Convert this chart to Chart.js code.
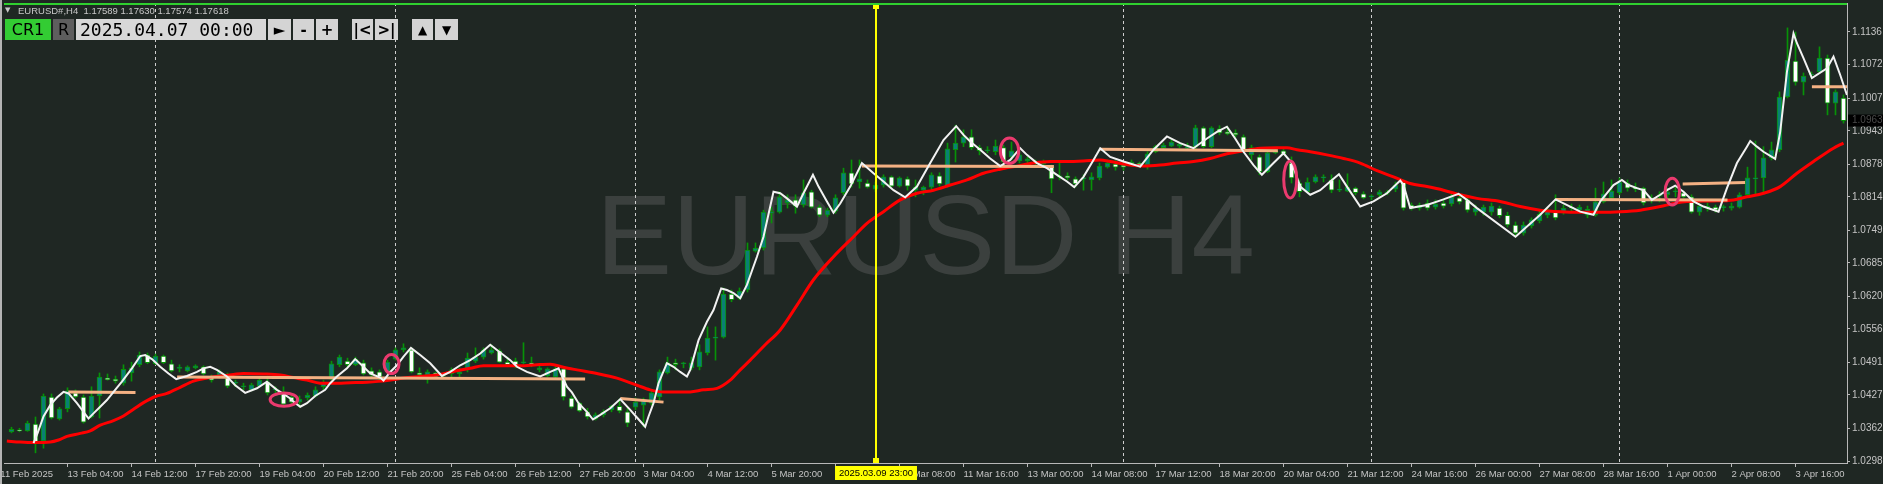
<!DOCTYPE html>
<html><head><meta charset="utf-8">
<script src="https://cdn.jsdelivr.net/npm/chart.js@4.4.1/dist/chart.umd.min.js"></script>
<style>
html,body{margin:0;padding:0;background:#1f2723;}
#wrap{position:relative;width:1883px;height:484px;overflow:hidden;}
canvas{position:absolute;left:0;top:0;}
.hdr{position:absolute;left:18px;top:5px;font:9.5px "Liberation Sans",Arial,sans-serif;color:#c8c8c8;white-space:pre;line-height:12px;}
.tri{position:absolute;left:5px;top:6px;font:7px "DejaVu Sans";color:#c8c8c8;}
.b{position:absolute;top:19px;height:21px;box-sizing:border-box;display:flex;align-items:center;justify-content:center;color:#000;background:#d4d4d4;font:bold 15px "DejaVu Sans",sans-serif;}
</style></head>
<body>
<div id="wrap">
<canvas id="c" width="1883" height="484"></canvas>
<div class="tri">▼</div>
<div class="hdr">EURUSD#,H4  1.17589 1.17630 1.17574 1.17618</div>
<div class="b" style="left:5px;width:46px;background:#33cc33;font:16px 'DejaVu Sans';">CR1</div>
<div class="b" style="left:53px;width:21px;background:#5e5e5e;font:16px 'DejaVu Sans';">R</div>
<div class="b" style="left:76px;width:190px;background:#d8d8d8;font:18px 'DejaVu Sans Mono';justify-content:flex-start;padding-left:4px;">2025.04.07 00:00</div>
<div class="b" style="left:268px;width:23px;">►</div>
<div class="b" style="left:293px;width:21px;">-</div>
<div class="b" style="left:316px;width:22px;">+</div>
<div class="b" style="left:352px;width:21px;">|&lt;</div>
<div class="b" style="left:375px;width:23px;">&gt;|</div>
<div class="b" style="left:412px;width:21px;font-size:12px;">▲</div>
<div class="b" style="left:435px;width:23px;font-size:12px;">▼</div>
</div>
<script>
// ---- candles (H4 bars, index 0 = first fully visible bar) ----
const opens=[
1.0355,1.0359,1.0357,1.0370,1.0337,1.0423,1.0380,1.0400,1.0431,1.0423,
1.0384,1.0425,1.0460,1.0458,1.0450,1.0470,1.0486,1.0505,1.0488,1.0503,
1.0488,1.0479,1.0474,1.0480,1.0482,1.0462,1.0462,1.0462,1.0450,1.0443,
1.0437,1.0444,1.0452,1.0437,1.0429,1.0423,1.0413,1.0421,1.0425,1.0443,
1.0458,1.0486,1.0493,1.0486,1.0490,1.0474,1.0472,1.0472,1.0497,1.0515,
1.0515,1.0470,1.0466,1.0470,1.0465,1.0468,1.0468,1.0478,1.0493,1.0501,
1.0509,1.0513,1.0491,1.0493,1.0490,1.0490,1.0476,1.0464,1.0462,1.0478,
1.0421,1.0411,1.0394,1.0380,1.0388,1.0398,1.0405,1.0394,1.0403,1.0407,
1.0411,1.0423,1.0470,1.0490,1.0488,1.0480,1.0482,1.0509,1.0538,1.0540,
1.0624,1.0616,1.0632,1.0708,1.0714,1.0782,1.0784,1.0802,1.0808,1.0798,
1.0824,1.0794,1.0778,1.0786,1.0822,1.0861,1.0843,1.0841,1.0829,1.0837,
1.0853,1.0835,1.0849,1.0827,1.0827,1.0833,1.0855,1.0835,1.0906,1.0919,
1.0931,1.0910,1.0904,1.0902,1.0910,1.0892,1.0884,1.0884,1.0882,1.0878,
1.0874,1.0853,1.0855,1.0849,1.0849,1.0847,1.0851,1.0872,1.0878,1.0876,
1.0878,1.0880,1.0876,1.0902,1.0910,1.0913,1.0913,1.0910,1.0912,1.0949,
1.0912,1.0947,1.0941,1.0939,1.0931,1.0896,1.0892,1.0863,1.0900,1.0904,
1.0880,1.0841,1.0824,1.0843,1.0851,1.0847,1.0827,1.0825,1.0831,1.0820,
1.0814,1.0818,1.0822,1.0829,1.0843,1.0798,1.0792,1.0802,1.0794,1.0802,
1.0800,1.0812,1.0808,1.0784,1.0784,1.0784,1.0792,1.0778,1.0759,1.0743,
1.0757,1.0767,1.0778,1.0784,1.0784,1.0794,1.0788,1.0778,1.0778,1.0804,
1.0812,1.0822,1.0841,1.0833,1.0831,1.0808,1.0816,1.0818,1.0824,1.0822,
1.0814,1.0784,1.0792,1.0794,1.0793,1.0792,1.0794,1.0818,1.0849,1.0851,
1.0890,1.0906,1.1009,1.1079,1.1038,1.1052,1.1058,1.1085,1.0997,1.1007];
const highs=[
1.0364,1.0362,1.0376,1.0384,1.0429,1.0429,1.0403,1.0441,1.0437,1.0427,
1.0443,1.0470,1.0468,1.0464,1.0486,1.0491,1.0511,1.0509,1.0507,1.0505,
1.0495,1.0486,1.0484,1.0486,1.0484,1.0466,1.0476,1.0470,1.0456,1.0450,
1.0450,1.0460,1.0464,1.0443,1.0443,1.0427,1.0425,1.0431,1.0443,1.0456,
1.0493,1.0505,1.0499,1.0501,1.0495,1.0480,1.0476,1.0495,1.0519,1.0527,
1.0519,1.0480,1.0476,1.0472,1.0470,1.0480,1.0480,1.0509,1.0519,1.0519,
1.0525,1.0517,1.0501,1.0499,1.0529,1.0501,1.0486,1.0480,1.0482,1.0482,
1.0425,1.0413,1.0401,1.0392,1.0398,1.0407,1.0419,1.0401,1.0421,1.0421,
1.0437,1.0476,1.0501,1.0497,1.0491,1.0501,1.0525,1.0560,1.0560,1.0636,
1.0632,1.0636,1.0724,1.0724,1.0788,1.0794,1.0824,1.0818,1.0818,1.0847,
1.0827,1.0798,1.0792,1.0818,1.0870,1.0886,1.0886,1.0847,1.0843,1.0857,
1.0855,1.0853,1.0853,1.0847,1.0835,1.0861,1.0861,1.0919,1.0954,1.0945,
1.0945,1.0915,1.0912,1.0925,1.0915,1.0921,1.0902,1.0892,1.0886,1.0886,
1.0876,1.0880,1.0861,1.0853,1.0857,1.0861,1.0880,1.0886,1.0886,1.0882,
1.0886,1.0882,1.0902,1.0915,1.0919,1.0927,1.0919,1.0919,1.0954,1.0951,
1.0951,1.0953,1.0951,1.0945,1.0935,1.0915,1.0896,1.0902,1.0910,1.0910,
1.0892,1.0847,1.0851,1.0857,1.0857,1.0857,1.0847,1.0859,1.0833,1.0824,
1.0818,1.0827,1.0827,1.0843,1.0847,1.0802,1.0802,1.0808,1.0808,1.0810,
1.0820,1.0820,1.0814,1.0798,1.0798,1.0802,1.0796,1.0784,1.0765,1.0765,
1.0773,1.0786,1.0794,1.0818,1.0798,1.0800,1.0798,1.0796,1.0831,1.0843,
1.0847,1.0851,1.0847,1.0841,1.0833,1.0818,1.0824,1.0831,1.0833,1.0825,
1.0818,1.0802,1.0802,1.0798,1.0798,1.0802,1.0822,1.0872,1.0923,1.0912,
1.0921,1.1019,1.1144,1.1136,1.1056,1.1058,1.1107,1.1091,1.1023,1.1013];
const lows=[
1.0353,1.0355,1.0356,1.0314,1.0323,1.0380,1.0378,1.0394,1.0421,1.0372,
1.0382,1.0382,1.0456,1.0450,1.0446,1.0454,1.0482,1.0488,1.0486,1.0488,
1.0472,1.0472,1.0472,1.0478,1.0466,1.0452,1.0460,1.0441,1.0443,1.0437,
1.0435,1.0443,1.0427,1.0431,1.0407,1.0409,1.0403,1.0417,1.0423,1.0437,
1.0456,1.0482,1.0482,1.0484,1.0466,1.0462,1.0454,1.0468,1.0495,1.0511,
1.0470,1.0462,1.0450,1.0460,1.0460,1.0462,1.0460,1.0472,1.0490,1.0497,
1.0507,1.0490,1.0482,1.0480,1.0488,1.0482,1.0472,1.0462,1.0460,1.0417,
1.0401,1.0394,1.0380,1.0378,1.0384,1.0394,1.0392,1.0365,1.0398,1.0365,
1.0407,1.0417,1.0468,1.0476,1.0480,1.0476,1.0476,1.0505,1.0495,1.0538,
1.0609,1.0613,1.0628,1.0706,1.0710,1.0763,1.0782,1.0792,1.0782,1.0794,
1.0792,1.0775,1.0775,1.0782,1.0818,1.0833,1.0831,1.0831,1.0824,1.0833,
1.0833,1.0833,1.0827,1.0814,1.0818,1.0829,1.0835,1.0833,1.0882,1.0912,
1.0906,1.0896,1.0900,1.0896,1.0880,1.0886,1.0880,1.0880,1.0876,1.0874,
1.0822,1.0847,1.0847,1.0833,1.0827,1.0827,1.0847,1.0870,1.0866,1.0866,
1.0874,1.0872,1.0868,1.0900,1.0906,1.0912,1.0910,1.0906,1.0906,1.0910,
1.0910,1.0935,1.0935,1.0931,1.0902,1.0886,1.0857,1.0861,1.0898,1.0896,
1.0841,1.0814,1.0822,1.0841,1.0843,1.0822,1.0824,1.0824,1.0818,1.0810,
1.0808,1.0814,1.0818,1.0824,1.0788,1.0788,1.0788,1.0788,1.0790,1.0792,
1.0796,1.0800,1.0784,1.0778,1.0778,1.0778,1.0773,1.0755,1.0736,1.0739,
1.0753,1.0763,1.0773,1.0769,1.0780,1.0784,1.0784,1.0773,1.0776,1.0802,
1.0808,1.0818,1.0825,1.0824,1.0798,1.0802,1.0804,1.0812,1.0814,1.0812,
1.0782,1.0778,1.0786,1.0784,1.0786,1.0788,1.0792,1.0814,1.0818,1.0822,
1.0886,1.0902,1.1007,1.1032,1.1013,1.1046,1.1056,1.0974,1.0974,1.0958];
const closes=[
1.0360,1.0357,1.0372,1.0333,1.0425,1.0382,1.0400,1.0435,1.0423,1.0374,
1.0425,1.0462,1.0457,1.0454,1.0477,1.0480,1.0505,1.0490,1.0503,1.0490,
1.0474,1.0481,1.0482,1.0484,1.0468,1.0456,1.0472,1.0444,1.0452,1.0445,
1.0447,1.0456,1.0431,1.0439,1.0409,1.0413,1.0419,1.0427,1.0437,1.0450,
1.0488,1.0501,1.0486,1.0497,1.0468,1.0466,1.0462,1.0491,1.0515,1.0519,
1.0472,1.0466,1.0472,1.0462,1.0467,1.0476,1.0472,1.0499,1.0501,1.0515,
1.0515,1.0491,1.0486,1.0482,1.0491,1.0486,1.0480,1.0478,1.0478,1.0423,
1.0403,1.0396,1.0384,1.0388,1.0394,1.0405,1.0396,1.0372,1.0413,1.0417,
1.0431,1.0472,1.0490,1.0486,1.0489,1.0490,1.0511,1.0538,1.0540,1.0624,
1.0613,1.0630,1.0710,1.0714,1.0784,1.0785,1.0814,1.0808,1.0796,1.0822,
1.0794,1.0778,1.0788,1.0812,1.0861,1.0839,1.0849,1.0833,1.0837,1.0853,
1.0835,1.0851,1.0835,1.0833,1.0833,1.0857,1.0839,1.0908,1.0919,1.0931,
1.0910,1.0904,1.0905,1.0913,1.0882,1.0904,1.0896,1.0888,1.0883,1.0882,
1.0849,1.0855,1.0851,1.0839,1.0850,1.0853,1.0874,1.0880,1.0872,1.0872,
1.0882,1.0874,1.0898,1.0912,1.0915,1.0921,1.0917,1.0912,1.0949,1.0912,
1.0949,1.0939,1.0937,1.0935,1.0904,1.0910,1.0863,1.0900,1.0904,1.0898,
1.0851,1.0824,1.0843,1.0853,1.0852,1.0827,1.0828,1.0833,1.0822,1.0812,
1.0815,1.0824,1.0824,1.0837,1.0792,1.0792,1.0798,1.0792,1.0800,1.0796,
1.0814,1.0804,1.0788,1.0792,1.0794,1.0796,1.0777,1.0759,1.0743,1.0759,
1.0769,1.0780,1.0788,1.0773,1.0792,1.0792,1.0794,1.0790,1.0804,1.0820,
1.0825,1.0843,1.0831,1.0829,1.0802,1.0812,1.0817,1.0824,1.0825,1.0814,
1.0784,1.0796,1.0796,1.0788,1.0794,1.0796,1.0818,1.0851,1.0850,1.0890,
1.0906,1.1009,1.1081,1.1038,1.1050,1.1054,1.1085,1.0997,1.1019,1.0963];

// ---- moving average (red) : bar index / price ----
const maIdx=[-0.58,1.09,2.75,4.84,5.88,6.93,8.59,9.84,11.09,12.75,14.0,15.25,16.5,18.0,19.43,21.09,22.75,24.43,26.09,27.75,29.0,31.5,33.59,35.25,36.93,38.59,40.25,42.34,44.43,46.93,49.0,51.09,53.18,55.25,57.34,59.0,61.5,63.59,65.68,67.34,69.0,70.68,73.18,75.68,78.18,79.84,81.5,84.84,86.5,88.18,89.84,91.09,92.34,94.21,96.09,98.21,100.25,102.75,105.25,106.93,109.0,111.09,113.18,115.25,117.34,119.43,121.5,123.59,125.68,127.75,129.84,131.93,134.0,136.09,137.34,139.84,141.5,143.59,145.68,147.75,149.84,151.93,154.0,156.09,158.18,159.43,160.68,162.34,164.43,166.5,168.59,170.68,172.75,174.84,176.93,179.0,181.09,183.18,186.09,188.59,191.09,193.59,196.09,198.59,201.09,203.59,206.09,207.75,209.43,212.75,215.25,216.93,219.0,221.09,223.18,225.25,227.75,229.0];
const maVal=[1.0337,1.0335,1.0334,1.0335,1.0339,1.0346,1.0352,1.0357,1.0368,1.0377,1.0386,1.0399,1.0412,1.0424,1.0430,1.0442,1.0454,1.0460,1.0464,1.0467,1.0469,1.0468,1.0466,1.0461,1.0456,1.0450,1.0450,1.0451,1.0452,1.0455,1.0460,1.0463,1.0466,1.0473,1.0479,1.0484,1.0484,1.0484,1.0486,1.0487,1.0481,1.0476,1.0469,1.0460,1.0446,1.0437,1.0433,1.0433,1.0437,1.0440,1.0456,1.0476,1.0495,1.0525,1.0554,1.0603,1.0652,1.0697,1.0736,1.0762,1.0785,1.0808,1.0821,1.0827,1.0837,1.0847,1.0860,1.0868,1.0874,1.0880,1.0883,1.0883,1.0884,1.0886,1.0883,1.0876,1.0874,1.0876,1.0880,1.0883,1.0889,1.0898,1.0904,1.0909,1.0910,1.0910,1.0906,1.0902,1.0896,1.0889,1.0880,1.0865,1.0853,1.0840,1.0834,1.0827,1.0818,1.0811,1.0805,1.0795,1.0788,1.0785,1.0784,1.0784,1.0785,1.0788,1.0795,1.0801,1.0805,1.0806,1.0808,1.0814,1.0821,1.0834,1.0860,1.0883,1.0909,1.0919];

// ---- swing line (white) : bar index / price ----
const zzIdx=[2.75,3.25,4.0,4.84,5.68,6.5,7.13,8.18,9.63,10.25,11.09,11.93,12.96,13.8,15.05,16.09,16.71,17.55,18.59,19.63,20.59,21.93,23.18,24.0,24.84,25.68,26.93,27.96,29.21,30.68,31.93,33.18,34.0,34.84,35.25,36.09,36.93,37.96,39.21,39.84,40.68,41.93,42.96,44.0,44.84,46.09,
46.5,47.34,48.18,49.0,49.93,51.09,52.34,53.8,54.84,56.09,57.34,58.59,59.84,61.09,62.34,63.18,64.43,66.09,67.34,68.38,68.93,69.43,70.05,70.88,71.93,72.68,73.59,74.84,76.09,77.34,78.18,79.21,79.63,80.25,80.88,81.93,82.75,83.59,84.43,84.84,85.88,86.93,87.75,88.71,89.43,90.25,91.09,91.93,
93.18,94.0,95.25,96.09,96.93,98.18,99.0,100.18,100.88,101.93,102.75,103.59,104.84,106.3,107.75,109.0,110.25,111.71,113.18,114.84,116.5,118.09,119.0,119.84,121.09,122.34,123.59,124.84,126.09,126.93,128.18,129.43,130.68,131.93,132.84,134.0,135.25,136.09,
137.34,139.0,141.09,142.75,144.43,146.09,147.75,149.43,150.68,151.93,152.96,154.0,155.25,156.3,157.75,159.0,160.05,161.09,162.34,163.59,164.84,165.93,166.93,168.59,170.25,171.93,173.59,174.0,174.84,176.93,179.0,180.88,181.93,183.18,
188.0,
191.09,193.0,194.84,196.09,197.75,198.59,200.25,201.3,202.13,203.18,204.0,205.05,206.09,206.93,207.96,209.0,210.25,211.5,213.38,214.43,215.68,216.93,217.34,218.18,219.0,220.46,221.09,221.93,222.75,223.18,224.0,225.05,226.93,227.75,228.59,229.43];
const zzVal=[1.0333,1.0352,1.0385,1.0407,1.0422,1.0433,1.0430,1.0411,1.0381,1.0391,1.0404,1.0417,1.0437,1.0453,1.0479,1.0503,1.0505,1.0497,1.0482,1.0469,1.0458,1.0464,1.0472,1.0479,1.0482,1.0476,1.0463,1.0446,1.0431,1.0440,1.0453,1.0437,1.0429,1.0420,1.0414,1.0404,1.0411,1.0425,1.0437,1.0450,1.0463,1.0479,1.0497,1.0482,1.0469,1.0461,
1.0455,1.0472,1.0485,1.0502,1.0519,1.0505,1.0489,1.0464,1.0472,1.0485,1.0495,1.0508,1.0525,1.0510,1.0495,1.0482,1.0472,1.0463,1.0472,1.0479,1.0460,1.0443,1.0432,1.0411,1.0394,1.0379,1.0388,1.0401,1.0419,1.0398,1.0383,1.0365,1.0385,1.0411,1.0450,1.0489,1.0482,1.0472,1.0463,1.0476,1.0534,1.0570,1.0593,1.0635,1.0632,1.0626,1.0616,1.0642,
1.0697,1.0736,1.0824,1.0821,1.0811,1.0795,1.0821,1.0857,1.0834,1.0805,1.0783,1.0801,1.0834,1.0880,1.0860,1.0844,1.0827,1.0813,1.0834,1.0880,1.0925,1.0952,1.0935,1.0922,1.0906,1.0889,1.0874,1.0886,1.0909,1.0896,1.0880,1.0870,1.0857,1.0844,1.0833,1.0853,1.0886,1.0909,
1.0892,1.0883,1.0873,1.0906,1.0932,1.0919,1.0909,1.0928,1.0941,1.0951,1.0928,1.0902,1.0876,1.0857,1.0880,1.0899,1.0880,1.0834,1.0818,1.0827,1.0844,1.0858,1.0834,1.0795,1.0805,1.0821,1.0846,1.0837,1.0792,1.0798,1.0809,1.0820,1.0808,1.0792,
1.0736,
1.0779,1.0809,1.0795,1.0785,1.0779,1.0805,1.0837,1.0847,1.0837,1.0831,1.0827,1.0808,1.0818,1.0827,1.0836,1.0824,1.0805,1.0795,1.0785,1.0831,1.0880,1.0912,1.0923,1.0912,1.0902,1.0888,1.0941,1.1058,1.1133,1.1114,1.1085,1.1046,1.1065,1.1088,1.1052,1.1013];

// ---- horizontal level segments (tan) ----
const lvlT1=[7.1,20.7,76.1,106.3,136.1,193.0,208.9,225.05];
const lvlT2=[15.5,71.7,81.5,130.3,158.3,214.5,216.7,229.6];
const lvlP1=[1.0433,1.0462,1.0420,1.0874,1.0907,1.0809,1.0839,1.1029];
const lvlP2=[1.0432,1.0458,1.0413,1.0873,1.0904,1.0808,1.0842,1.1029];

// ---- ellipse objects (time/price bounds) ----
const ovalT1=[32.14,46.38,123.41,158.84,206.51];
const ovalT2=[35.96,48.63,126.09,160.84,208.69];
const ovalP1=[1.0402,1.0466,1.0876,1.0809,1.0795];
const ovalP2=[1.0434,1.0509,1.0932,1.0887,1.0853];

// ---- axes / misc ----
const sepIdx=[18,48,78,108,139,170,201];
const timeTickIdx=[-1.4,7,15,23,31,39,47,55,63,71,79,87,95,103,111,119,127,135,143,151,159,167,175,183,191,199,207,215,223];
const timeTickText=['11 Feb 2025','13 Feb 04:00','14 Feb 12:00','17 Feb 20:00','19 Feb 04:00','20 Feb 12:00','21 Feb 20:00','25 Feb 04:00','26 Feb 12:00','27 Feb 20:00','3 Mar 04:00','4 Mar 12:00','5 Mar 20:00','7 Mar 04:00','10 Mar 08:00','11 Mar 16:00','13 Mar 00:00','14 Mar 08:00','17 Mar 12:00','18 Mar 20:00','20 Mar 04:00','21 Mar 12:00','24 Mar 16:00','26 Mar 00:00','27 Mar 08:00','28 Mar 16:00','1 Apr 00:00','2 Apr 08:00','3 Apr 16:00'];
const priceTicks=[1.0298,1.0362,1.0427,1.0491,1.0556,1.0620,1.0685,1.0749,1.0814,1.0878,1.0943,1.1007,1.1072,1.1136];
const vlineIdx=108;
const vlineText='2025.03.09 23:00';
const lastPrice=1.0963;
const symbolText='EURUSD H4';

// ---- styles ----
const BG='#1f2723', BULL='#0a7f74', BEAR='#ffffff', WICK='#079207', TXT='#c4c4c4', AXIS='#b8b8b8';
const X_MIN=-0.9375, X_MAX=229.4375, Y_MIN=1.02941, Y_MAX=1.11926;

const bodies=opens.map((o,i)=>({x:i,y:[o,closes[i]]}));
const wicks=highs.map((h,i)=>({x:i,y:[lows[i],h]}));
const bodyColors=opens.map((o,i)=>closes[i]>=o?BULL:BEAR);

const lvlSets=lvlT1.map((t,i)=>({type:'line',data:[{x:t,y:lvlP1[i]},{x:lvlT2[i],y:lvlP2[i]}],borderColor:'#f4b183',borderWidth:3,pointRadius:0,order:1}));

const bgPlugin={id:'bgp',beforeDraw(c){const ctx=c.ctx;ctx.save();ctx.fillStyle=BG;ctx.fillRect(0,0,c.width,c.height);ctx.restore();}};
const backPlugin={id:'back',beforeDatasetsDraw(c){
  const {ctx,chartArea:a,scales:{x}}=c;ctx.save();
  const fs=114;ctx.font=fs+'px "Liberation Sans"';ctx.fillStyle='#3b403e';ctx.textAlign='center';ctx.textBaseline='alphabetic';
  ctx.fillText(symbolText,(a.left+a.right)/2,(a.top+a.bottom)/2+0.716*fs/2);
  ctx.strokeStyle='#cfcfcf';ctx.lineWidth=1;ctx.setLineDash([3,3]);
  sepIdx.forEach(s=>{const px=Math.round(x.getPixelForValue(s))-0.5;ctx.beginPath();ctx.moveTo(px,a.top);ctx.lineTo(px,a.bottom);ctx.stroke();});
  ctx.restore();}};
const frontPlugin={id:'front',afterDatasetsDraw(c){
  const {ctx,chartArea:a,scales:{x,y}}=c;ctx.save();
  ctx.beginPath();ctx.rect(a.left,a.top,a.right-a.left,a.bottom-a.top);ctx.clip();
  ctx.strokeStyle='#ea3a6e';ctx.lineWidth=3;
  ovalT1.forEach((t,i)=>{const x1=x.getPixelForValue(t),x2=x.getPixelForValue(ovalT2[i]),y1=y.getPixelForValue(ovalP1[i]),y2=y.getPixelForValue(ovalP2[i]);
    ctx.beginPath();ctx.ellipse((x1+x2)/2,(y1+y2)/2,Math.abs(x2-x1)/2-1.5,Math.abs(y2-y1)/2-1.5,0,0,Math.PI*2);ctx.stroke();});
  const vx=Math.round(x.getPixelForValue(vlineIdx));
  ctx.fillStyle='#ffff00';ctx.fillRect(vx-1,a.top,2,a.bottom-a.top);
  ctx.fillRect(vx-3,a.top+1,6,5);ctx.fillRect(vx-3,a.bottom-5,6,5);
  ctx.fillStyle='#2fcf2f';ctx.fillRect(a.left,a.top,a.right-a.left,2);
  ctx.restore();},
 afterDraw(c){
  const {ctx,chartArea:a,scales:{x,y}}=c;ctx.save();
  const vx=Math.round(x.getPixelForValue(vlineIdx));
  ctx.font='9.5px "Liberation Sans"';const w=ctx.measureText(vlineText).width+8;
  ctx.fillStyle='#ffff00';ctx.fillRect(vx-w/2,a.bottom+3,w,14);
  ctx.fillStyle='#000';ctx.textAlign='center';ctx.textBaseline='middle';ctx.fillText(vlineText,vx,a.bottom+10.5);
  const py=y.getPixelForValue(lastPrice);
  ctx.font='10px "Liberation Sans"';
  ctx.fillStyle='#000';ctx.fillRect(a.right+1,py-6,c.width-a.right-1,12);
  ctx.fillStyle='#4a4a4a';ctx.textAlign='left';ctx.fillText(lastPrice.toFixed(4),a.right+5,py);
  ctx.fillStyle='#b4b4b4';ctx.fillRect(0,0,2,c.height);
  ctx.restore();}};

new Chart(document.getElementById('c'),{
  type:'bar',
  data:{datasets:[
    {type:'line',data:zzIdx.map((v,i)=>({x:v,y:zzVal[i]})),borderColor:'#f2f2f2',borderWidth:2,pointRadius:0,order:0},
    ...lvlSets,
    {type:'line',data:maIdx.map((v,i)=>({x:v,y:maVal[i]})),borderColor:'#ff0000',borderWidth:3,pointRadius:0,cubicInterpolationMode:'monotone',order:2},
    {type:'bar',data:bodies,backgroundColor:bodyColors,borderColor:WICK,borderWidth:1,borderSkipped:false,barThickness:5,minBarLength:1,grouped:false,order:4},
    {type:'bar',data:wicks,backgroundColor:WICK,borderWidth:0,barThickness:1,grouped:false,order:5}
  ]},
  options:{
    responsive:false,animation:false,devicePixelRatio:1,
    layout:{padding:{left:4,top:3,right:0,bottom:0}},
    plugins:{legend:{display:false},tooltip:{enabled:false}},
    scales:{
      x:{type:'linear',min:X_MIN,max:X_MAX,offset:false,
        afterBuildTicks:s=>{s.ticks=timeTickIdx.map(v=>({value:v}));},
        afterFit:s=>{s.height=21;s.paddingLeft=0;s.paddingRight=0;},
        ticks:{autoSkip:false,maxRotation:0,minRotation:0,align:'start',padding:2,color:TXT,font:{family:'Liberation Sans',size:9.5},callback:(v,i)=>timeTickText[i]},
        grid:{drawOnChartArea:false,drawTicks:true,tickLength:4,color:AXIS,offset:false},
        border:{display:true,color:AXIS}},
      y:{type:'linear',position:'right',min:Y_MIN,max:Y_MAX,
        afterBuildTicks:s=>{s.ticks=priceTicks.map(v=>({value:v}));},
        afterFit:s=>{s.width=36;s.paddingTop=0;s.paddingBottom=0;},
        ticks:{padding:2,color:TXT,font:{family:'Liberation Sans',size:10},callback:v=>v.toFixed(4)},
        grid:{drawOnChartArea:false,drawTicks:true,tickLength:3,color:AXIS},
        border:{display:true,color:AXIS}}
    }
  },
  plugins:[bgPlugin,backPlugin,frontPlugin]
});
</script>
</body></html>
